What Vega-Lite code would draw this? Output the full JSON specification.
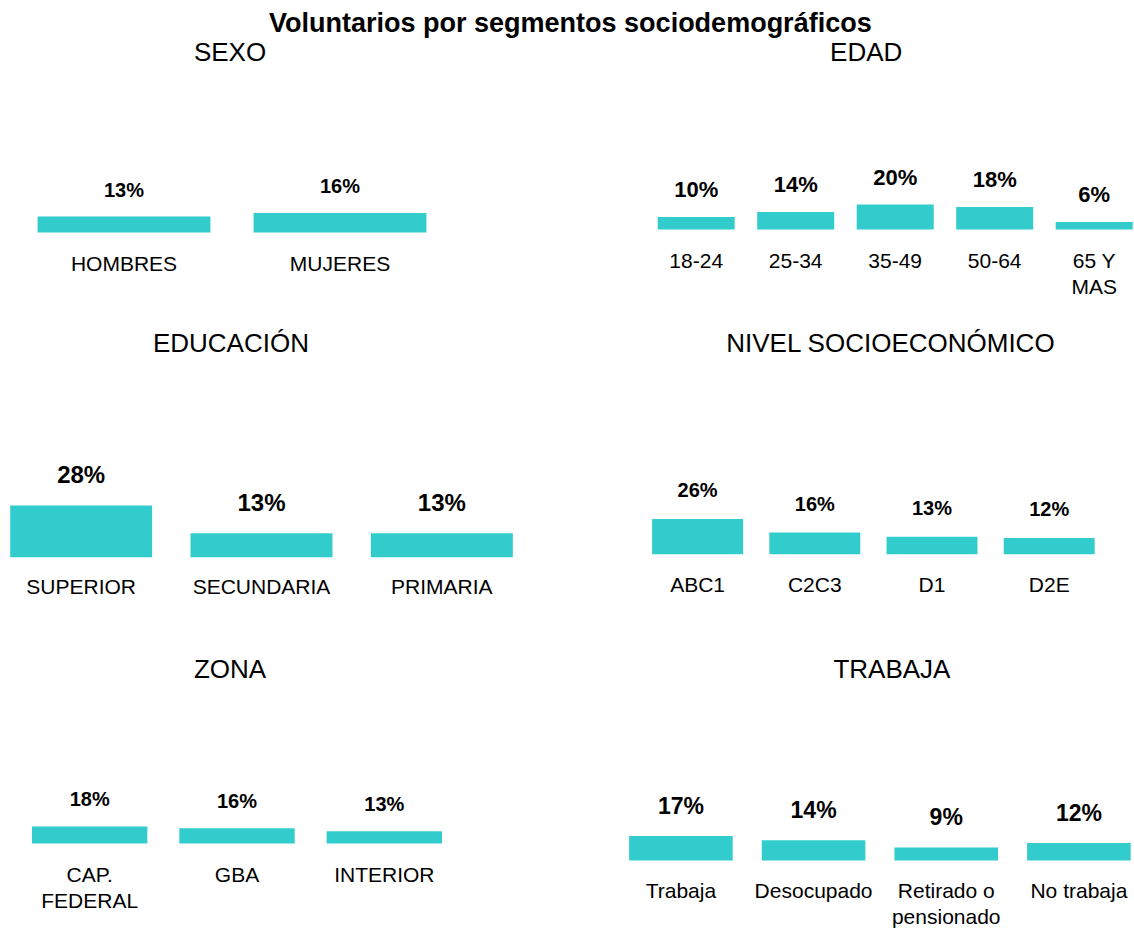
{
  "$schema": "https://vega.github.io/schema/vega-lite/v6.json",
  "padding": {"top": 10, "left": 0, "right": 0, "bottom": 0},
  "background": "white",
  "title": {"text": "Voluntarios por segmentos sociodemográficos", "fontSize": 27, "fontWeight": "bold", "anchor": "middle", "dx": 4, "offset": 2},
  "datasets": {
    "d": [
      {"panel": "SEXO", "cat": "HOMBRES", "order": 1, "value": 0.13},
      {"panel": "SEXO", "cat": "MUJERES", "order": 2, "value": 0.16},
      {"panel": "EDAD", "cat": "18-24", "order": 1, "value": 0.10},
      {"panel": "EDAD", "cat": "25-34", "order": 2, "value": 0.14},
      {"panel": "EDAD", "cat": "35-49", "order": 3, "value": 0.20},
      {"panel": "EDAD", "cat": "50-64", "order": 4, "value": 0.18},
      {"panel": "EDAD", "cat": "65 Y MAS", "order": 5, "value": 0.06},
      {"panel": "EDUCACION", "cat": "SUPERIOR", "order": 1, "value": 0.28},
      {"panel": "EDUCACION", "cat": "SECUNDARIA", "order": 2, "value": 0.13},
      {"panel": "EDUCACION", "cat": "PRIMARIA", "order": 3, "value": 0.13},
      {"panel": "NSE", "cat": "ABC1", "order": 1, "value": 0.26},
      {"panel": "NSE", "cat": "C2C3", "order": 2, "value": 0.16},
      {"panel": "NSE", "cat": "D1", "order": 3, "value": 0.13},
      {"panel": "NSE", "cat": "D2E", "order": 4, "value": 0.12},
      {"panel": "ZONA", "cat": "CAP. FEDERAL", "order": 1, "value": 0.18},
      {"panel": "ZONA", "cat": "GBA", "order": 2, "value": 0.16},
      {"panel": "ZONA", "cat": "INTERIOR", "order": 3, "value": 0.13},
      {"panel": "TRABAJA", "cat": "Trabaja", "order": 1, "value": 0.17},
      {"panel": "TRABAJA", "cat": "Desocupado", "order": 2, "value": 0.14},
      {"panel": "TRABAJA", "cat": "Retirado o pensionado", "order": 3, "value": 0.09},
      {"panel": "TRABAJA", "cat": "No trabaja", "order": 4, "value": 0.12}
    ]
  },
  "vconcat": [
    {
      "vconcat": [
        {
          "hconcat": [
            {
              "data": {"name": "d"},
              "transform": [{"filter": "datum.panel == 'SEXO'"}],
              "title": {"text": "SEXO", "dx": -2},
              "width": 464, "height": 160,
              "encoding": {
                "x": {"field": "cat", "type": "nominal", "sort": {"field": "order", "op": "min"}, "scale": {"paddingInner": 0.2, "paddingOuter": 0.174}},
                "y": {"field": "value", "type": "quantitative", "scale": {"domain": [0.02, 1.33], "zero": false, "nice": false}, "axis": null}
              },
              "layer": [
                {"mark": {"type": "bar", "color": "#33CCCC"}},
                {"mark": {"type": "text", "fontSize": 20, "fontWeight": "bold", "baseline": "alphabetic", "dy": -20}, "encoding": {"text": {"field": "value", "type": "quantitative", "format": ".0%"}}}
              ]
            },
            {
              "data": {"name": "d"},
              "transform": [{"filter": "datum.panel == 'EDAD'"}],
              "title": {"text": "EDAD", "dx": -29},
              "width": 475, "height": 157,
              "encoding": {
                "x": {"field": "cat", "type": "nominal", "sort": {"field": "order", "op": "min"}, "scale": {"paddingInner": 0.226, "paddingOuter": 0}},
                "y": {"field": "value", "type": "quantitative", "scale": {"domain": [0.02, 1.276], "zero": false, "nice": false}, "axis": null}
              },
              "layer": [
                {"mark": {"type": "bar", "color": "#33CCCC"}},
                {"mark": {"type": "text", "fontSize": 22, "fontWeight": "bold", "baseline": "alphabetic", "dy": -20}, "encoding": {"text": {"field": "value", "type": "quantitative", "format": ".0%"}}}
              ]
            }
          ],
          "spacing": 192.7
        },
        {
          "hconcat": [
            {
              "data": {"name": "d"},
              "transform": [{"filter": "datum.panel == 'EDUCACION'"}],
              "title": {"text": "EDUCACIÓN", "dx": -30.6},
              "width": 523, "height": 192.5,
              "encoding": {
                "x": {"field": "cat", "type": "nominal", "sort": {"field": "order", "op": "min"}, "scale": {"paddingInner": 0.213, "paddingOuter": 0.0565}},
                "y": {"field": "value", "type": "quantitative", "scale": {"domain": [0.02, 1.06], "zero": false, "nice": false}, "axis": null}
              },
              "layer": [
                {"mark": {"type": "bar", "color": "#33CCCC"}},
                {"mark": {"type": "text", "fontSize": 24, "fontWeight": "bold", "baseline": "alphabetic", "dy": -22}, "encoding": {"text": {"field": "value", "type": "quantitative", "format": ".0%"}}}
              ]
            },
            {
              "data": {"name": "d"},
              "transform": [{"filter": "datum.panel == 'NSE'"}],
              "title": {"text": "NIVEL SOCIOECONÓMICO", "dx": 17},
              "width": 466, "height": 190.5,
              "encoding": {
                "x": {"field": "cat", "type": "nominal", "sort": {"field": "order", "op": "min"}, "scale": {"paddingInner": 0.224, "paddingOuter": 0.1}},
                "y": {"field": "value", "type": "quantitative", "scale": {"domain": [0.02, 1.43], "zero": false, "nice": false}, "axis": null}
              },
              "layer": [
                {"mark": {"type": "bar", "color": "#33CCCC"}},
                {"mark": {"type": "text", "fontSize": 20, "fontWeight": "bold", "baseline": "alphabetic", "dy": -22}, "encoding": {"text": {"field": "value", "type": "quantitative", "format": ".0%"}}}
              ]
            }
          ],
          "spacing": 117.4
        }
      ],
      "spacing": 34
    },
    {
      "hconcat": [
        {
          "data": {"name": "d"},
          "transform": [{"filter": "datum.panel == 'ZONA'"}],
          "title": {"text": "ZONA", "dx": -7, "offset": 7},
          "width": 474, "height": 151.5,
          "encoding": {
            "x": {"field": "cat", "type": "nominal", "sort": {"field": "order", "op": "min"}, "scale": {"paddingInner": 0.217, "paddingOuter": 0.217}},
            "y": {"field": "value", "type": "quantitative", "scale": {"domain": [0.02, 1.632], "zero": false, "nice": false}, "axis": null}
          },
          "layer": [
            {"mark": {"type": "bar", "color": "#33CCCC"}},
            {"mark": {"type": "text", "fontSize": 20, "fontWeight": "bold", "baseline": "alphabetic", "dy": -20}, "encoding": {"text": {"field": "value", "type": "quantitative", "format": ".0%"}}}
          ]
        },
        {
          "data": {"name": "d"},
          "transform": [{"filter": "datum.panel == 'TRABAJA'"}],
          "title": {"text": "TRABAJA", "dx": 12, "offset": 7},
          "width": 501.6, "height": 167.5,
          "encoding": {
            "x": {"field": "cat", "type": "nominal", "sort": {"field": "order", "op": "min"}, "scale": {"paddingInner": 0.219, "paddingOuter": 0}},
            "y": {"field": "value", "type": "quantitative", "scale": {"domain": [0.02, 1.183], "zero": false, "nice": false}, "axis": null}
          },
          "layer": [
            {"mark": {"type": "bar", "color": "#33CCCC"}},
            {"mark": {"type": "text", "fontSize": 23, "fontWeight": "bold", "baseline": "alphabetic", "dy": -22}, "encoding": {"text": {"field": "value", "type": "quantitative", "format": ".0%"}}}
          ]
        }
      ],
      "spacing": 155.1
    }
  ],
  "spacing": 59,
  "config": {
    "font": "Liberation Sans",
    "view": {"stroke": null},
    "text": {"font": "Liberation Sans", "color": "black"},
    "title": {"font": "Liberation Sans", "fontSize": 26, "fontWeight": "normal", "color": "black", "offset": 4},
    "axisX": {
      "title": null, "domain": false, "ticks": false, "tickSize": 0, "labelAngle": 0,
      "labelFont": "Liberation Sans", "labelFontSize": 21, "labelColor": "black",
      "labelBaseline": "alphabetic", "labelPadding": 40, "labelLineHeight": 26, "labelLimit": 300,
      "labelExpr": "datum.label == '65 Y MAS' ? ['65 Y', 'MAS'] : datum.label == 'CAP. FEDERAL' ? ['CAP.', 'FEDERAL'] : datum.label == 'Retirado o pensionado' ? ['Retirado o', 'pensionado'] : datum.label"
    }
  }
}
